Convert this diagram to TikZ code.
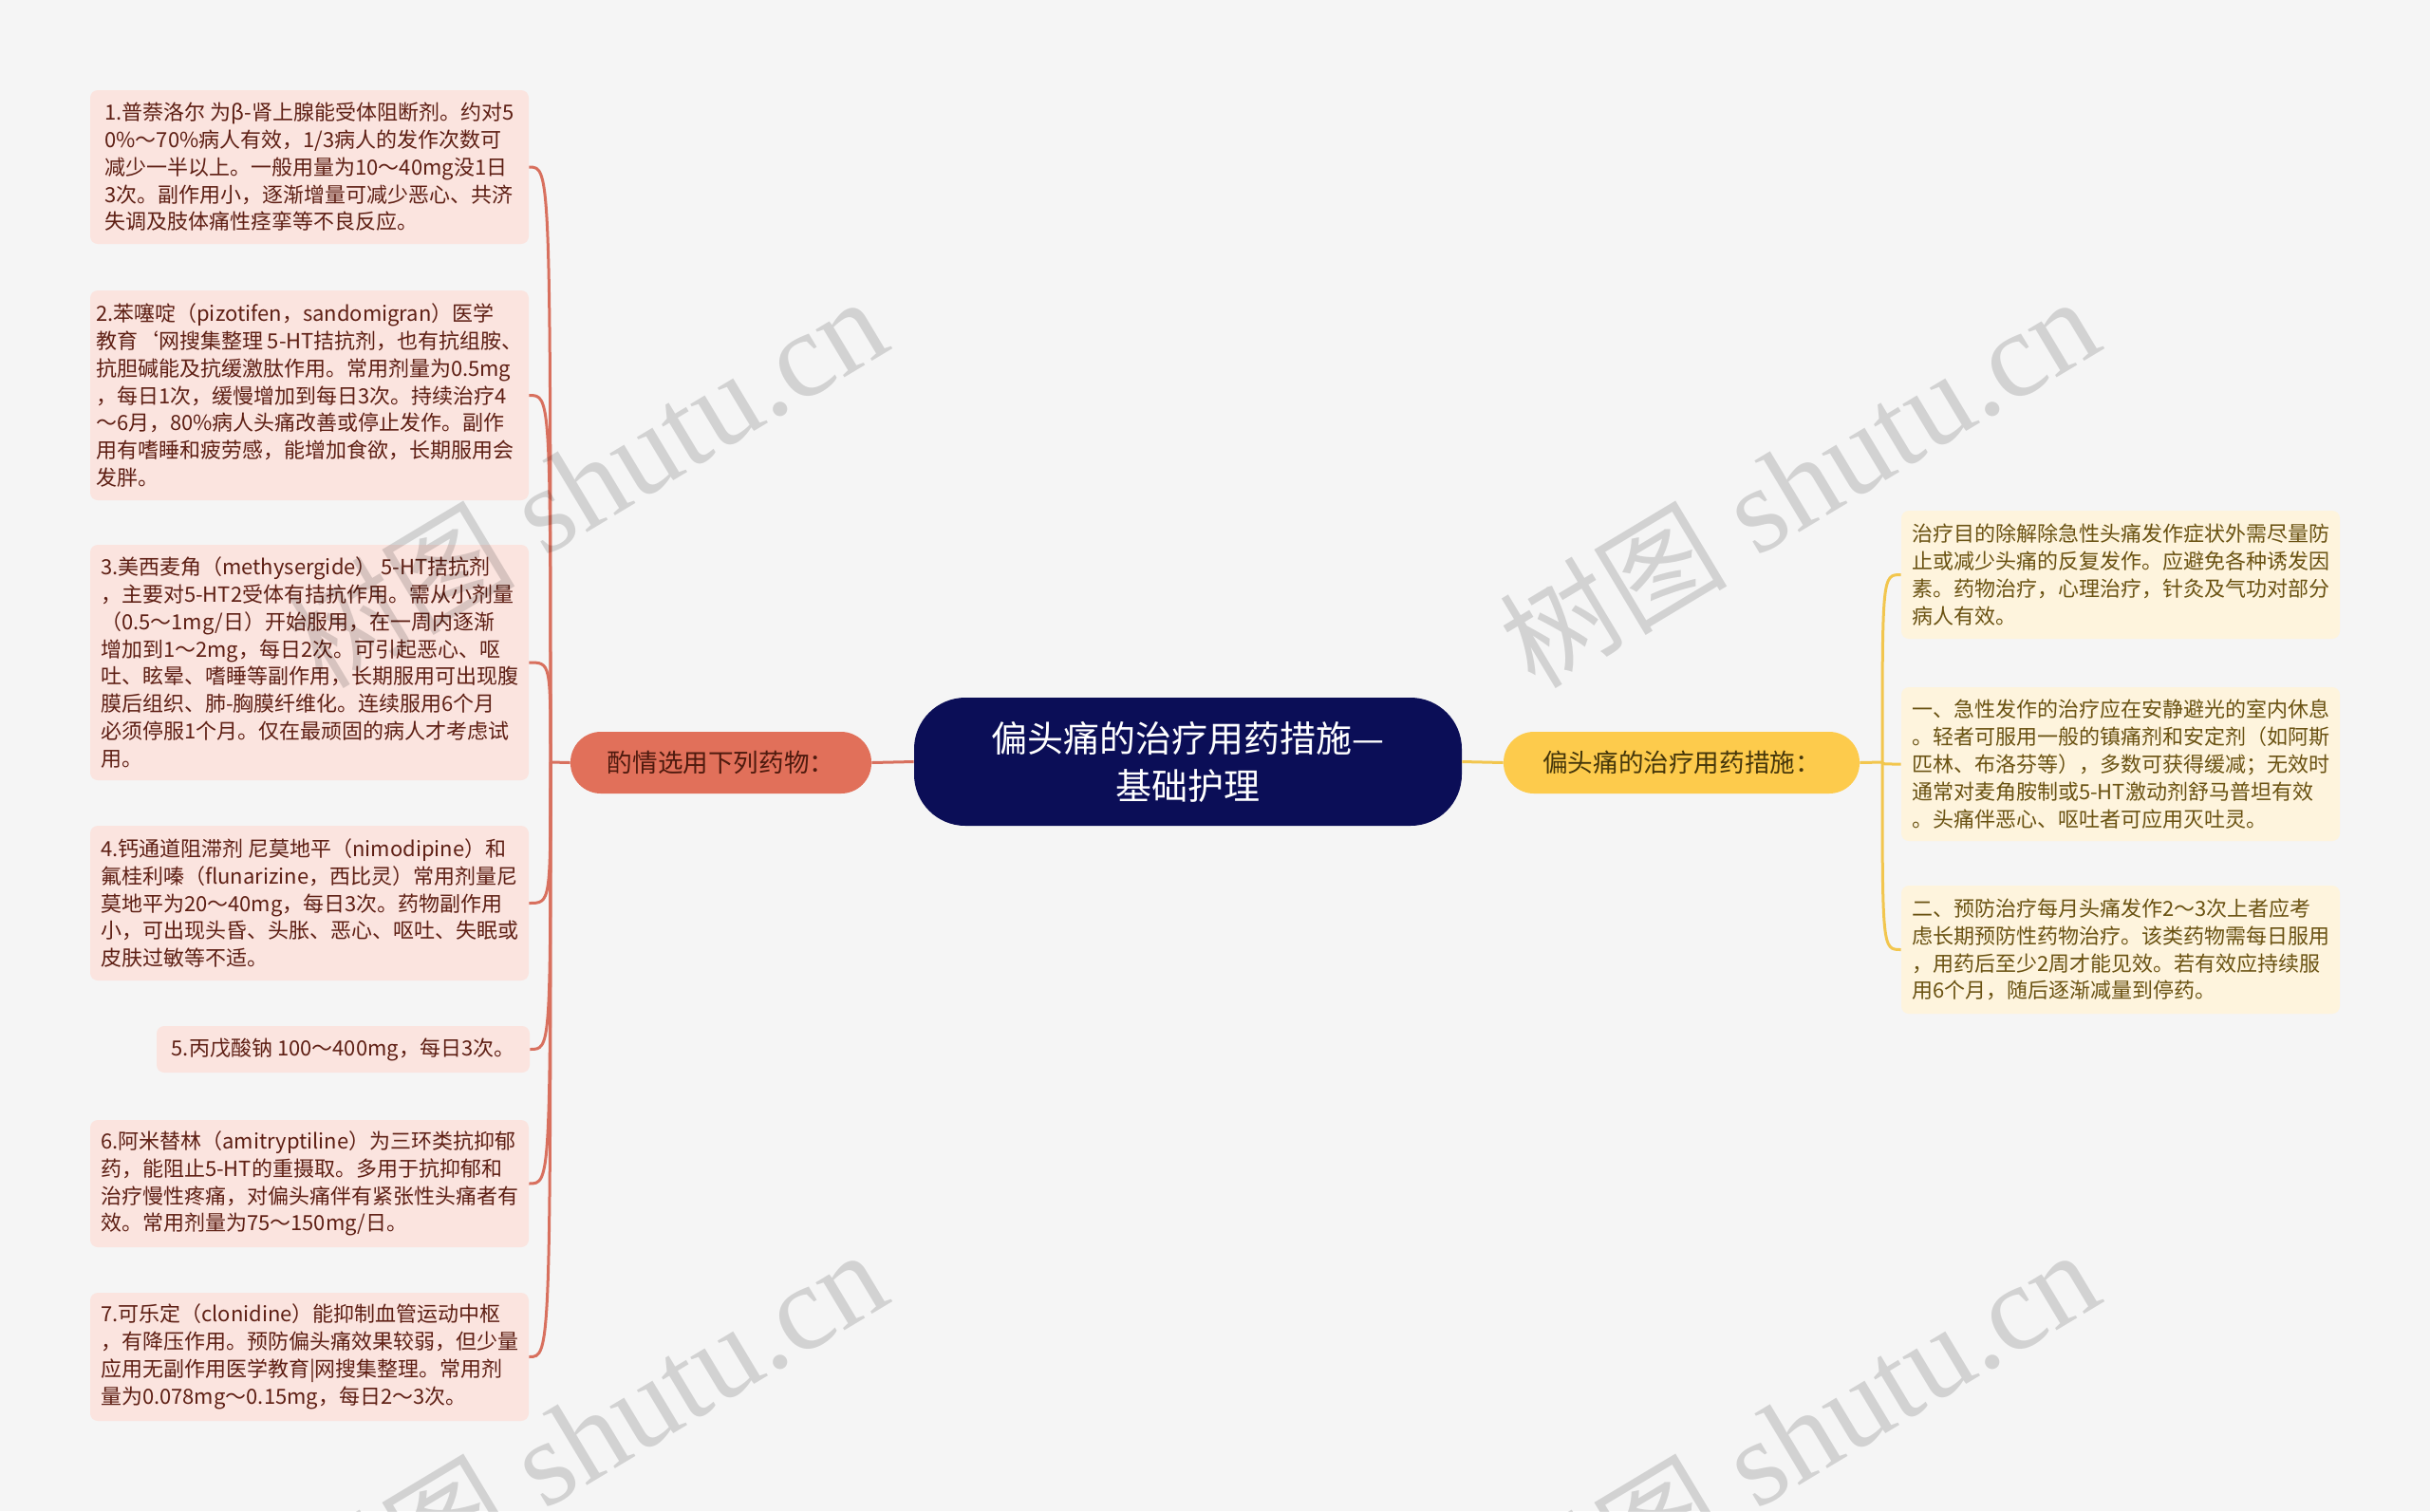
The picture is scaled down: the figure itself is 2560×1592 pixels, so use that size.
\documentclass[tikz,border=0pt]{standalone}
\usepackage{fontspec}
\setmainfont{Noto Sans CJK SC}
\newfontfamily\wmlatin{Liberation Serif}
\newfontfamily\wmcjk{Noto Sans CJK SC}
\definecolor{bgc}{HTML}{F5F5F5}
\definecolor{leafLfill}{HTML}{FBE4DF}
\definecolor{leafRfill}{HTML}{FEF4DD}
\definecolor{leafLtext}{HTML}{5E1F14}
\definecolor{leafRtext}{HTML}{6A5212}
\definecolor{brLfill}{HTML}{E1705A}
\definecolor{brRfill}{HTML}{FDCB4C}
\definecolor{brLtext}{HTML}{4E1A0E}
\definecolor{brRtext}{HTML}{45360A}
\definecolor{cfill}{HTML}{0B0E57}
\definecolor{connLc}{HTML}{D8705E}
\definecolor{connRc}{HTML}{F2C64E}
\tikzset{
  leafL/.style={rectangle, rounded corners=4pt, fill=leafLfill, text=leafLtext,
    font=\fontsize{11pt}{14.4pt}\selectfont, align=left, inner sep=0pt, minimum width=231pt},
  leafR/.style={rectangle, rounded corners=4pt, fill=leafRfill, text=leafRtext,
    font=\fontsize{11pt}{14.4pt}\selectfont, align=left, inner sep=0pt, minimum width=231pt},
  branchL/.style={rectangle, rounded corners=16pt, fill=brLfill, text=brLtext,
    font=\fontsize{13.3pt}{16pt}\selectfont, inner sep=0pt, minimum height=32.5pt},
  branchR/.style={rectangle, rounded corners=16pt, fill=brRfill, text=brRtext,
    font=\fontsize{13.3pt}{16pt}\selectfont, inner sep=0pt, minimum height=32.5pt},
  centerbox/.style={rectangle, rounded corners=27pt, fill=cfill, text=white,
    font=\fontsize{19pt}{25pt}\selectfont, align=center, inner sep=0pt,
    minimum width=288.5pt, minimum height=67.5pt},
  connL/.style={draw=connLc, line width=1.5pt},
  connR/.style={draw=connRc, line width=1.5pt},
  wm/.style={font=\wmlatin\fontsize{64pt}{64pt}\selectfont, text=black, text opacity=0.14,
    inner sep=0pt, rotate=31, anchor=base west}
}
\newcommand{\wmtext}{{\wmcjk\fontsize{60pt}{60pt}\selectfont 树图} shutu.cn}
\begin{document}
\begin{tikzpicture}[x=0.5pt,y=-0.5pt]
\useasboundingbox (0,0) rectangle (2560,1592);
\fill[bgc] (0,0) rectangle (2560,1592);
\clip (0,0) rectangle (2560,1592);

% center and branches
\node[centerbox] (C) at (1251.5,802.5) {偏头痛的治疗用药措施—\\基础护理};
\node[branchL, minimum width=158.5pt] (Lb) at (759.5,803.5) {酌情选用下列药物：};
\node[branchR, minimum width=187.5pt] (Rb) at (1771.5,803.5) {偏头痛的治疗用药措施：};

% left leaves
\node[leafL, minimum height=81pt] (l1) at (326,176) {1.普萘洛尔 为β-肾上腺能受体阻断剂。约对5\\
0\%～70\%病人有效，1/3病人的发作次数可\\
减少一半以上。一般用量为10～40mg没1日\\
3次。副作用小，逐渐增量可减少恶心、共济\\
失调及肢体痛性痉挛等不良反应。};
\node[leafL, minimum height=110.5pt] (l2) at (326,416.5) {2.苯噻啶（pizotifen，sandomigran）医学\\
教育`网搜集整理 5-HT拮抗剂，也有抗组胺、\\
抗胆碱能及抗缓激肽作用。常用剂量为0.5mg\\
，每日1次，缓慢增加到每日3次。持续治疗4\\
～6月，80\%病人头痛改善或停止发作。副作\\
用有嗜睡和疲劳感，能增加食欲，长期服用会\\
发胖。};
\node[leafL, minimum height=124pt] (l3) at (326,698) {3.美西麦角（methysergide） 5-HT拮抗剂\\
，主要对5-HT2受体有拮抗作用。需从小剂量\\
（0.5～1mg/日）开始服用，在一周内逐渐\\
增加到1～2mg，每日2次。可引起恶心、呕\\
吐、眩晕、嗜睡等副作用，长期服用可出现腹\\
膜后组织、肺-胸膜纤维化。连续服用6个月\\
必须停服1个月。仅在最顽固的病人才考虑试\\
用。};
\node[leafL, minimum height=81.5pt] (l4) at (326,951.5) {4.钙通道阻滞剂 尼莫地平（nimodipine）和\\
氟桂利嗪（flunarizine，西比灵）常用剂量尼\\
莫地平为20～40mg，每日3次。药物副作用\\
小，可出现头昏、头胀、恶心、呕吐、失眠或\\
皮肤过敏等不适。};
\node[leafL, minimum width=196.5pt, minimum height=24.5pt] (l5) at (361.5,1105.5) {5.丙戊酸钠 100～400mg，每日3次。};
\node[leafL, minimum height=67pt] (l6) at (326,1247) {6.阿米替林（amitryptiline）为三环类抗抑郁\\
药，能阻止5-HT的重摄取。多用于抗抑郁和\\
治疗慢性疼痛，对偏头痛伴有紧张性头痛者有\\
效。常用剂量为75～150mg/日。};
\node[leafL, minimum height=67.5pt] (l7) at (326,1429.5) {7.可乐定（clonidine）能抑制血管运动中枢\\
，有降压作用。预防偏头痛效果较弱，但少量\\
应用无副作用医学教育|网搜集整理。常用剂\\
量为0.078mg～0.15mg，每日2～3次。};

% right leaves
\node[leafR, minimum height=67.5pt] (r1) at (2234,605.5) {治疗目的除解除急性头痛发作症状外需尽量防\\
止或减少头痛的反复发作。应避免各种诱发因\\
素。药物治疗，心理治疗，针灸及气功对部分\\
病人有效。};
\node[leafR, minimum height=81pt] (r2) at (2234,805) {一、急性发作的治疗应在安静避光的室内休息\\
。轻者可服用一般的镇痛剂和安定剂（如阿斯\\
匹林、布洛芬等），多数可获得缓减；无效时\\
通常对麦角胺制或5-HT激动剂舒马普坦有效\\
。头痛伴恶心、呕吐者可应用灭吐灵。};
\node[leafR, minimum height=67.5pt] (r3) at (2234,1000.5) {二、预防治疗每月头痛发作2～3次上者应考\\
虑长期预防性药物治疗。该类药物需每日服用\\
，用药后至少2周才能见效。若有效应持续服\\
用6个月，随后逐渐减量到停药。};

% connectors
\draw[connL] (C.west) -- (Lb.east);
\draw[connR] (C.east) -- (Rb.west);
\coordinate (SL) at (580,803);
\coordinate (SR) at (1983,803);
\draw[connL] (Lb.west) -- (SL);
\draw[connR] (Rb.east) -- (SR);
\foreach \n in {l1,l2,l3,l4,l5,l6,l7}
  \draw[connL] (SL) .. controls (SL |- \n.east) .. (\n.east);
\foreach \n in {r1,r2,r3}
  \draw[connR] (SR) .. controls (SR |- \n.west) .. (\n.west);

% watermarks
\node[wm] (wm1) at (340,728) {\wmtext};
\node[wm] (wm2) at (1617,728) {\wmtext};
\node[wm] (wm3) at (340,1732) {\wmtext};
\node[wm] (wm4) at (1617,1732) {\wmtext};
\end{tikzpicture}
\end{document}
